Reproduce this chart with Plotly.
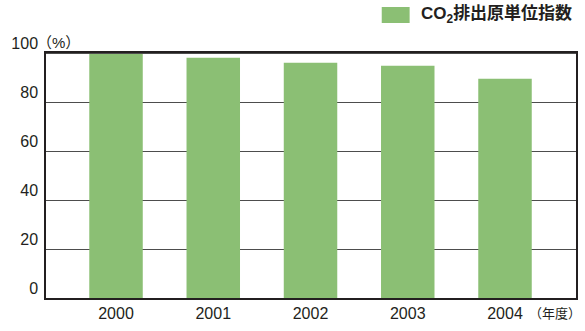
import plotly.graph_objects as go

years = ["2000", "2001", "2002", "2003", "2004"]
co2_index = [99.6, 98.1, 96.0, 94.8, 89.5]
y_ticks = [0, 20, 40, 60, 80, 100]
legend_name = "CO<sub>2</sub>排出原単位指数"

font_family = "Liberation Sans, Arial, Noto Sans CJK JP, sans-serif"
bar_color = "#8bbf74"
W, H = 585, 331
L, R, T, B = 46, 7, 53, 33
pw, ph = W - L - R, H - T - B


def px_x(px):
    return (px - L) / pw


def px_y(py):
    return (H - B - py) / ph


fig = go.Figure()
fig.add_trace(go.Bar(
    x=list(range(len(years))), y=co2_index,
    marker=dict(color=bar_color, line=dict(width=0)),
    width=0.55, showlegend=False, name=legend_name,
))

fig.update_layout(
    width=W, height=H,
    margin=dict(l=L, r=R, t=T, b=B),
    paper_bgcolor="white", plot_bgcolor="white",
    font=dict(family=font_family, size=16, color="#231f20"),
    xaxis=dict(
        range=[-0.72, 4.73],
        tickvals=list(range(len(years))), ticktext=years,
        showgrid=False, zeroline=False,
        showline=True, linecolor="#231f20", linewidth=1.5, mirror=True,
        ticks="", ticklen=0, ticklabelstandoff=0,
        tickfont=dict(size=16),
    ),
    yaxis=dict(
        range=[0, 100],
        tickvals=y_ticks, ticktext=[str(v) for v in y_ticks],
        showgrid=True, gridcolor="#4d4d4d", gridwidth=1.2,
        zeroline=False,
        showline=True, linecolor="#231f20", linewidth=1.5, mirror=True,
        ticks="", ticklen=0,
        ticklabelstandoff=3, ticklabelshift=-10,
        tickfont=dict(size=16),
    ),
    shapes=[
        dict(type="line", xref="paper", yref="y", x0=0, x1=1, y0=100, y1=100,
             line=dict(color="#4d4d4d", width=2)),
        dict(type="rect", xref="paper", yref="paper",
             x0=px_x(383), x1=px_x(411),
             y0=px_y(23), y1=px_y(7),
             fillcolor=bar_color, line=dict(width=0)),
    ],
    annotations=[
        dict(xref="paper", yref="paper", x=px_x(35), y=px_y(43),
             xanchor="left", yanchor="middle", showarrow=False,
             text="（%）", font=dict(size=15)),
        dict(xref="paper", yref="paper", x=px_x(529), y=px_y(313),
             xanchor="left", yanchor="middle", showarrow=False,
             text="（年度）", font=dict(size=13)),
        dict(xref="paper", yref="paper", x=px_x(420), y=px_y(15),
             xanchor="left", yanchor="middle", showarrow=False,
             text="<b>" + legend_name + "</b>", font=dict(size=17)),
    ],
)

fig.write_html("out.html")
